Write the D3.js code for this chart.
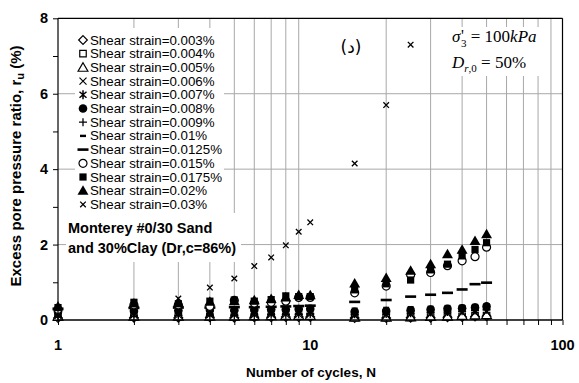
<!DOCTYPE html>
<html>
<head>
<meta charset="utf-8">
<script src="https://cdn.jsdelivr.net/npm/d3@7"></script>
<style>
  html, body { margin: 0; padding: 0; background: #fff; }
  svg { display: block; }
</style>
</head>
<body>
<svg id="chart" width="579" height="383"></svg>
<script>
// Number of loading cycles at which r_u was recorded
const cycles = [1, 2, 3, 4, 5, 6, 7, 8, 9, 10, 15, 20, 25, 30, 35, 40, 45, 50];

// Excess pore pressure ratio (%) for each shear strain level
const strain003  = [0.05, 0.06, 0.06, 0.07, 0.06, 0.07, 0.07, 0.08, 0.08, 0.08, 0.05, 0.05, 0.06, 0.06, 0.07, 0.08, 0.09, 0.10];
const strain004  = [0.08, 0.08, 0.09, 0.09, 0.08, 0.09, 0.10, 0.10, 0.10, 0.10, 0.06, 0.06, 0.07, 0.08, 0.09, 0.10, 0.11, 0.12];
const strain005  = [0.10, 0.10, 0.10, 0.10, 0.10, 0.11, 0.11, 0.12, 0.12, 0.12, 0.07, 0.07, 0.08, 0.09, 0.10, 0.12, 0.13, 0.14];
const strain006  = [0.12, 0.13, 0.13, 0.14, 0.14, 0.14, 0.15, 0.15, 0.15, 0.16, 0.12, 0.13, 0.15, 0.16, 0.17, 0.19, 0.20, 0.22];
const strain007  = [0.16, 0.18, 0.18, 0.20, 0.20, 0.20, 0.21, 0.21, 0.22, 0.22, 0.20, 0.22, 0.24, 0.26, 0.28, 0.30, 0.32, 0.34];
const strain008  = [0.22, 0.24, 0.25, 0.27, 0.26, 0.27, 0.28, 0.28, 0.29, 0.30, 0.22, 0.24, 0.26, 0.28, 0.30, 0.31, 0.33, 0.36];
const strain009  = [0.08, 0.10, 0.12, 0.12, 0.12, 0.13, 0.14, 0.14, 0.15, 0.16, 0.15, 0.16, 0.18, 0.20, 0.21, 0.23, 0.25, 0.27];
const strain010  = [0.26, 0.28, 0.30, 0.30, 0.30, 0.31, 0.32, 0.33, 0.33, 0.34, 0.30, 0.32, 0.34, 0.35, 0.37, 0.38, 0.40, 0.42];
const strain0125 = [0.30, 0.32, 0.33, 0.33, 0.34, 0.34, 0.35, 0.36, 0.37, 0.38, 0.48, 0.53, 0.62, 0.67, 0.72, 0.81, 0.95, 0.99];
const strain015  = [0.28, 0.40, 0.40, 0.36, 0.52, 0.45, 0.47, 0.50, 0.60, 0.60, 0.72, 0.90, 1.20, 1.26, 1.44, 1.57, 1.68, 1.93];
const strain0175 = [0.33, 0.47, 0.43, 0.50, 0.53, 0.50, 0.54, 0.64, 0.62, 0.62, 0.80, 0.96, 1.06, 1.33, 1.48, 1.70, 1.87, 2.05];
const strain020  = [0.36, 0.44, 0.46, 0.49, 0.50, 0.53, 0.56, 0.60, 0.67, 0.66, 0.97, 1.12, 1.31, 1.48, 1.75, 1.87, 2.10, 2.28];
const strain030  = [0.32, 0.45, 0.57, 0.86, 1.10, 1.43, 1.66, 1.98, 2.34, 2.59, 4.15, 5.70, 7.30];

const legendLabels = [
  "Shear strain=0.003%", "Shear strain=0.004%", "Shear strain=0.005%",
  "Shear strain=0.006%", "Shear strain=0.007%", "Shear strain=0.008%",
  "Shear strain=0.009%", "Shear strain=0.01%", "Shear strain=0.0125%",
  "Shear strain=0.015%", "Shear strain=0.0175%", "Shear strain=0.02%",
  "Shear strain=0.03%"
];
const xTickValues = [1, 10, 100];
const yTickValues = [0, 2, 4, 6, 8];

// marker glyph per series
const seriesData = [strain003, strain004, strain005, strain006, strain007, strain008,
  strain009, strain010, strain0125, strain015, strain0175, strain020, strain030];
const markerKinds = ["diamond", "square", "triangle", "x", "asterisk", "dot",
  "plus", "shortdash", "longdash", "circle", "fsquare", "ftriangle", "smallx"];

const svg = d3.select("#chart");
const plotL = 58, plotR = 562.5, plotT = 18.3, plotB = 320;

const x = d3.scaleLog().domain([1, 100]).range([plotL, plotR]);
const y = d3.scaleLinear().domain([0, 8]).range([plotB, plotT]);

// gridlines
const minorX = [];
for (let d = 1; d <= 10; d *= 10) for (let k = 2; k <= 9; k++) minorX.push(d * k);
svg.append("g").selectAll("line").data(minorX).join("line")
  .attr("x1", d => x(d)).attr("x2", d => x(d))
  .attr("y1", plotT).attr("y2", plotB)
  .attr("stroke", "#a8a8a8").attr("stroke-width", 1);
svg.append("g").selectAll("line").data([2, 4, 6]).join("line")
  .attr("x1", plotL).attr("x2", plotR)
  .attr("y1", d => y(d)).attr("y2", d => y(d))
  .attr("stroke", "#a8a8a8").attr("stroke-width", 1);

// white panels behind the legend and annotations
svg.append("rect").attr("x", 75).attr("y", 28).attr("width", 149).attr("height", 185).attr("fill", "#fff");
svg.append("rect").attr("x", 66).attr("y", 213).attr("width", 175).attr("height", 49).attr("fill", "#fff");
svg.append("rect").attr("x", 446).attr("y", 27).attr("width", 95).attr("height", 49).attr("fill", "#fff");

// marker drawing
function drawMarker(g, kind, cx, cy) {
  const s = g.append("g").attr("transform", `translate(${cx},${cy})`);
  switch (kind) {
    case "diamond":
      s.append("path").attr("d", d3.symbol(d3.symbolDiamond2, 48)())
        .attr("fill", "#fff").attr("stroke", "#000").attr("stroke-width", 1.2);
      break;
    case "square":
      s.append("path").attr("d", d3.symbol(d3.symbolSquare, 42)())
        .attr("fill", "#fff").attr("stroke", "#000").attr("stroke-width", 1.2);
      break;
    case "triangle":
      s.append("path").attr("d", d3.symbol(d3.symbolTriangle, 42)())
        .attr("transform", "translate(0,1)")
        .attr("fill", "#fff").attr("stroke", "#000").attr("stroke-width", 1.2);
      break;
    case "x":
      s.append("path").attr("d", "M-3.5,-3.5L3.5,3.5M-3.5,3.5L3.5,-3.5")
        .attr("stroke", "#000").attr("stroke-width", 1.2);
      break;
    case "asterisk":
      s.append("path").attr("d", "M-3.5,-3L3.5,3M-3.5,3L3.5,-3M0,-4.5L0,4.5")
        .attr("stroke", "#000").attr("stroke-width", 1.5);
      break;
    case "dot":
      s.append("circle").attr("r", 4.3).attr("fill", "#000");
      break;
    case "plus":
      s.append("path").attr("d", "M-4,0L4,0M0,-4L0,4")
        .attr("stroke", "#000").attr("stroke-width", 1.3);
      break;
    case "shortdash":
      s.append("rect").attr("x", -3).attr("y", -1.2).attr("width", 6).attr("height", 2.4).attr("fill", "#000");
      break;
    case "longdash":
      s.append("rect").attr("x", -5.5).attr("y", -1.3).attr("width", 11).attr("height", 2.6).attr("fill", "#000");
      break;
    case "circle":
      s.append("circle").attr("r", 4).attr("fill", "#fff").attr("stroke", "#000").attr("stroke-width", 1.2);
      break;
    case "fsquare":
      s.append("path").attr("d", d3.symbol(d3.symbolSquare, 52)()).attr("fill", "#000");
      break;
    case "ftriangle":
      s.append("path").attr("d", d3.symbol(d3.symbolTriangle, 52)())
        .attr("transform", "translate(0,1)").attr("fill", "#000");
      break;
    case "smallx":
      s.append("path").attr("d", "M-2.8,-2.8L2.8,2.8M-2.8,2.8L2.8,-2.8")
        .attr("stroke", "#000").attr("stroke-width", 1.3);
      break;
  }
}

// data points
const pts = svg.append("g");
seriesData.forEach((vals, i) => {
  vals.forEach((v, j) => drawMarker(pts, markerKinds[i], x(cycles[j]), y(v)));
});

// axes frame
svg.append("line").attr("x1", plotR).attr("x2", plotR).attr("y1", plotT).attr("y2", plotB)
  .attr("stroke", "#000").attr("stroke-width", 1.2);
svg.append("line").attr("x1", plotL).attr("x2", plotR).attr("y1", plotT).attr("y2", plotT)
  .attr("stroke", "#000").attr("stroke-width", 1.2);

const allX = [1].concat(minorX, [10, 100]);
const xAxis = d3.axisBottom(x).tickValues(allX).tickSize(5).tickFormat("");
const gx = svg.append("g").attr("transform", `translate(0,${plotB})`).call(xAxis);
gx.select(".domain").attr("stroke", "#000").attr("stroke-width", 1.6).attr("d", `M${plotL},0H${plotR}`);
gx.selectAll(".tick line").attr("stroke", "#000").attr("stroke-width", 1);

svg.append("g").selectAll("text").data(xTickValues).join("text")
  .attr("x", d => x(d)).attr("y", 350)
  .attr("text-anchor", "middle")
  .attr("font-family", "Liberation Sans, Arial, sans-serif").attr("font-weight", "bold").attr("font-size", 14.5)
  .text(d => d);

const yAxis = d3.axisLeft(y).tickValues(d3.range(0, 9, 1)).tickSize(5).tickFormat("");
const gy = svg.append("g").attr("transform", `translate(${plotL},0)`).call(yAxis);
gy.select(".domain").attr("stroke", "#000").attr("stroke-width", 1.2).attr("d", `M0,${plotB}V${plotT}`);
gy.selectAll(".tick line").attr("stroke", "#000").attr("stroke-width", 1);

svg.append("g").selectAll("text").data(yTickValues).join("text")
  .attr("x", 44).attr("y", d => y(d) + 5)
  .attr("text-anchor", "middle")
  .attr("font-family", "Liberation Sans, Arial, sans-serif").attr("font-weight", "bold").attr("font-size", 14.5)
  .text(d => d);

// axis titles
svg.append("text").attr("x", 311).attr("y", 377).attr("text-anchor", "middle")
  .attr("font-family", "Liberation Sans, Arial, sans-serif").attr("font-weight", "bold").attr("font-size", 13.5)
  .text("Number of cycles, N");

const yt = svg.append("text").attr("transform", "translate(21,166) rotate(-90)")
  .attr("text-anchor", "middle")
  .attr("font-family", "Liberation Sans, Arial, sans-serif").attr("font-weight", "bold").attr("font-size", 15);
yt.append("tspan").text("Excess pore pressure ratio, r");
yt.append("tspan").attr("font-size", 11).attr("dy", 3).text("u");
yt.append("tspan").attr("dy", -3).text(" (%)");

// legend
const lg = svg.append("g");
legendLabels.forEach((lab, i) => {
  const ly = 40 + i * 13.7;
  drawMarker(lg, markerKinds[i], 83, ly);
  lg.append("text").attr("x", 90).attr("y", ly + 4.5)
    .attr("font-family", "Liberation Sans, Arial, sans-serif").attr("font-size", 13.3)
    .text(lab);
});

// material note
const note = svg.append("g")
  .attr("font-family", "Liberation Sans, Arial, sans-serif").attr("font-weight", "bold").attr("font-size", 14.5);
note.append("text").attr("x", 68).attr("y", 233).text("Monterey #0/30 Sand");
note.append("text").attr("x", 68).attr("y", 253).text("and 30%Clay (Dr,c=86%)");

// panel tag
svg.append("text").attr("x", 351).attr("y", 53).attr("text-anchor", "middle")
  .attr("font-family", "DejaVu Sans, sans-serif").attr("font-size", 17)
  .text("(د)");

// test conditions
const serif = "Liberation Serif, Times New Roman, serif";
const cond = svg.append("g").attr("font-family", serif).attr("font-size", 17);
const c1 = cond.append("text").attr("x", 452).attr("y", 42);
c1.append("tspan").attr("font-style", "italic").text("σ");
c1.append("tspan").attr("x", 461).attr("font-size", 16).attr("dy", -1).text("'");
c1.append("tspan").attr("x", 461).attr("font-size", 11).attr("dy", 6).text("3");
c1.append("tspan").attr("dy", -5).text(" = 100");
c1.append("tspan").attr("font-style", "italic").text("kPa");
const c2 = cond.append("text").attr("x", 452).attr("y", 68);
c2.append("tspan").attr("font-style", "italic").text("D");
c2.append("tspan").attr("font-size", 11).attr("dy", 4).attr("font-style", "italic").text("r");
c2.append("tspan").attr("font-size", 11).text(",0");
c2.append("tspan").attr("dy", -4).text(" = 50%");
</script>
</body>
</html>
